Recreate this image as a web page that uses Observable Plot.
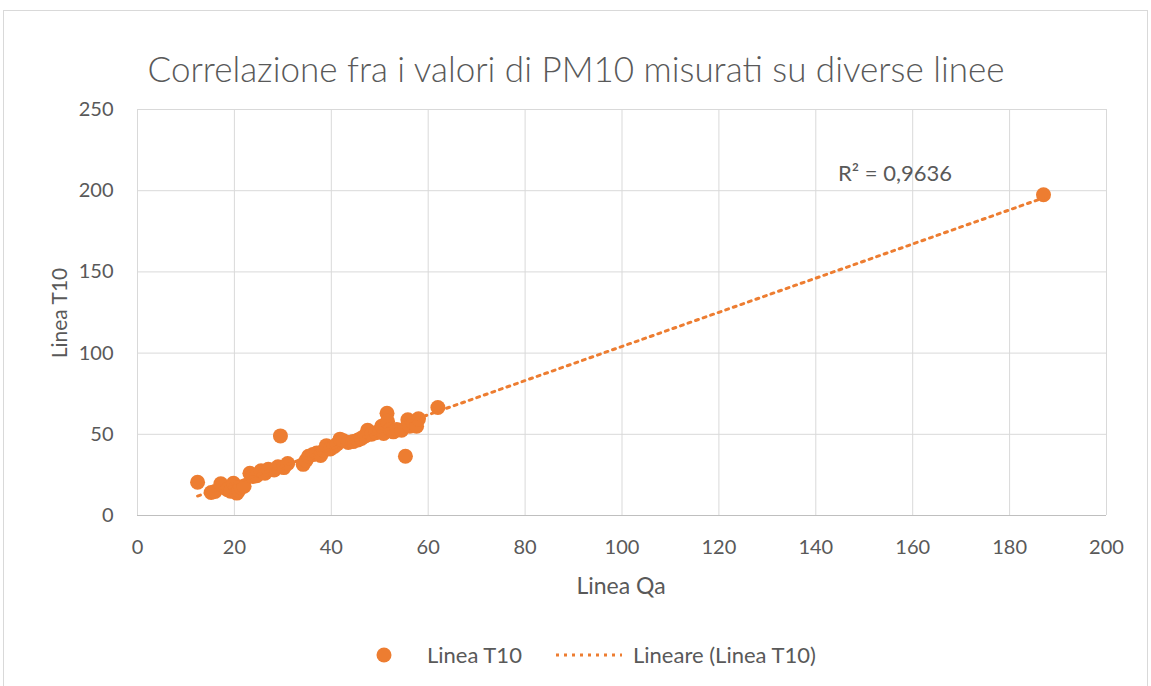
<!DOCTYPE html>
<html>
<head>
<meta charset="utf-8">
<script src="https://cdn.jsdelivr.net/npm/d3@7"></script>
<script src="https://cdn.jsdelivr.net/npm/@observablehq/plot@0.6"></script>
<style>
  body { margin: 0; background: #fff; font-family: Lato, "Open Sans", sans-serif; }
  #wrap { position: relative; width: 1151px; height: 686px; overflow: hidden; background: #fff; }
  #border { position: absolute; left: 3px; top: 10px; width: 1145px; height: 700px; border: 1px solid #D9D9D9; box-sizing: border-box; }
  #chart { position: absolute; left: 0; top: 0; }
  .t { position: absolute; line-height: 1; white-space: nowrap; color: #595959; transform: translate(-50%, -50%); }
  #title { left: 576px; top: 68px; font-size: 35px; font-weight: 300; }
  #xlab { left: 621px; top: 585px; font-size: 23px; }
  #ylab { left: 58px; top: 313px; font-size: 21px; transform: translate(-50%, -50%) rotate(-90deg); }
  #r2 { left: 895px; top: 173px; font-size: 22px; }
  .leg { position: absolute; line-height: 1; white-space: nowrap; color: #595959; font-size: 22px; transform: translateY(-50%); top: 655px; }
</style>
</head>
<body>
<div id="wrap">
  <div id="border"></div>
  <div id="chart"></div>
  <div class="t" id="title"></div>
  <div class="t" id="xlab"></div>
  <div class="t" id="ylab"></div>
  <div class="t" id="r2"></div>
  <div id="legend"></div>
</div>
<script>
// ---- data ----
const lineaQa = [12.4, 15.2, 16.0, 17.2, 18.5, 19.2, 19.8, 20.5, 20.9, 21.3, 22.0,
  23.2, 23.8, 24.6, 25.5, 26.3, 27.0, 28.2, 29.0, 29.5, 30.2, 31.0,
  34.2, 34.8, 35.3, 36.2, 37.0, 37.8, 38.5, 39.0, 39.8, 40.6, 41.2, 41.8, 42.5,
  43.5, 44.5, 45.5, 46.2, 47.0, 47.5, 48.3, 49.2, 50.0, 50.4, 50.8, 51.5, 51.6,
  52.2, 52.8, 53.5, 54.5, 55.3, 55.8, 56.2, 57.0, 57.6, 58.0, 62.0, 187.0];
const lineaT10 = [20.5, 14.2, 14.8, 19.5, 16.0, 15.0, 19.8, 13.8, 15.5, 17.5, 18.0,
  26.0, 24.0, 24.5, 27.5, 26.0, 28.5, 28.0, 30.0, 49.0, 29.5, 32.0,
  31.5, 34.0, 36.5, 37.5, 38.5, 37.0, 40.0, 43.0, 41.0, 42.5, 44.0, 47.0, 46.0,
  45.0, 45.5, 46.5, 47.5, 49.0, 52.5, 50.0, 51.0, 52.0, 55.0, 50.5, 63.0, 58.0,
  53.0, 51.5, 53.0, 52.5, 36.5, 59.0, 55.0, 57.0, 55.0, 59.5, 66.5, 197.5];
const xTicks = [0, 20, 40, 60, 80, 100, 120, 140, 160, 180, 200];
const yTicks = [0, 50, 100, 150, 200, 250];
const titleText = "Correlazione fra i valori di PM10 misurati su diverse linee";
const xLabel = "Linea Qa";
const yLabel = "Linea T10";
const seriesName = "Linea T10";
const trendName = "Lineare (Linea T10)";
const r2Text = "R² = 0,9636";

const ORANGE = "#ED7D31";
const GRID = "#D9D9D9";

const points = lineaQa.map((x, i) => ({x, y: lineaT10[i]}));

const chart = Plot.plot({
  width: 1151,
  height: 600,
  marginLeft: 137,
  marginRight: 45,
  marginTop: 109,
  marginBottom: 85,
  style: { fontFamily: "Lato, 'Open Sans', sans-serif", fontSize: "20px", color: "#595959", background: "transparent" },
  x: { domain: [0, 200] },
  y: { domain: [0, 250] },
  marks: [
    Plot.gridX(xTicks, { stroke: GRID, strokeOpacity: 1, strokeWidth: 1 }),
    Plot.gridY(yTicks, { stroke: GRID, strokeOpacity: 1, strokeWidth: 1 }),
    Plot.ruleY([0], { stroke: "#BFBFBF", strokeWidth: 1 }),
    Plot.axisX(xTicks, { tickSize: 0, tickPadding: 24, label: null, fill: "#595959" }),
    Plot.axisY(yTicks, { tickSize: 0, tickPadding: 24, label: null, fill: "#595959" }),
    Plot.dot(points, { x: "x", y: "y", r: 7.5, fill: ORANGE, stroke: "none" }),
    Plot.linearRegressionY(points, { x: "x", y: "y", ci: 0, stroke: ORANGE, strokeWidth: 3, strokeDasharray: "3,5" })
  ]
});
document.getElementById("chart").appendChild(chart);

document.getElementById("title").textContent = titleText;
document.getElementById("xlab").textContent = xLabel;
document.getElementById("ylab").textContent = yLabel;
document.getElementById("r2").textContent = r2Text;

// legend
const legend = document.getElementById("legend");
legend.innerHTML = `
  <svg style="position:absolute;left:376px;top:647px" width="16" height="16"><circle cx="8" cy="8" r="7.5" fill="${ORANGE}"/></svg>
  <div class="leg" style="left:427px">${seriesName}</div>
  <svg style="position:absolute;left:554px;top:650px" width="70" height="10"><line x1="2" x2="68" y1="5" y2="5" stroke="${ORANGE}" stroke-width="3" stroke-dasharray="3,5"/></svg>
  <div class="leg" style="left:633px">${trendName}</div>`;
</script>
</body>
</html>
